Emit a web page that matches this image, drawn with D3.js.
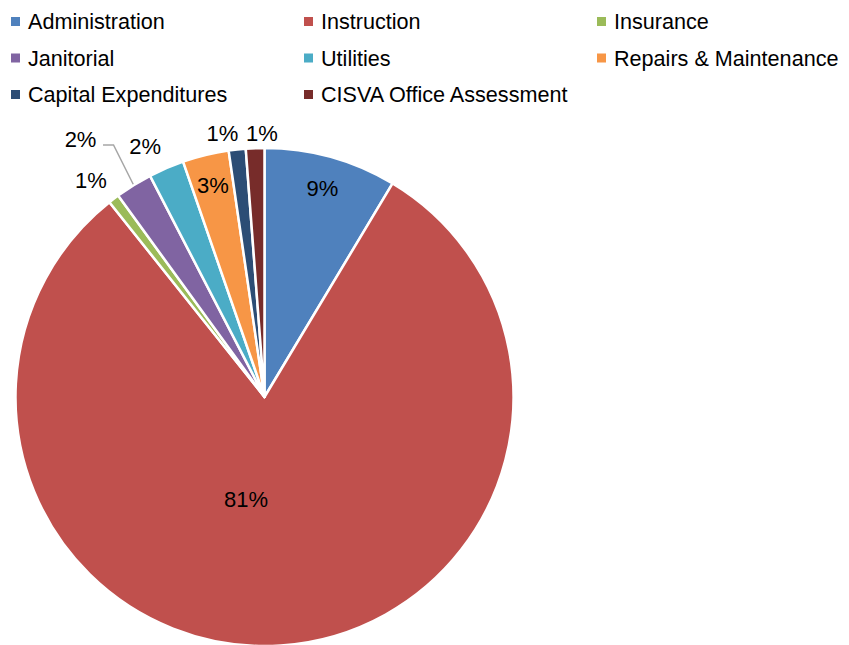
<!DOCTYPE html>
<html>
<head>
<meta charset="utf-8">
<script src="https://cdn.jsdelivr.net/npm/d3@7"></script>
<style>
  body { margin: 0; background: #fff; }
  svg { display: block; }
  text { font-family: "Liberation Sans", Arial, sans-serif; fill: #000; }
</style>
</head>
<body>
<div id="chart"></div>
<script>
// Budget share pie chart

// data (percent of total)
const categories = ["Administration", "Instruction", "Insurance", "Janitorial", "Utilities",
                    "Repairs & Maintenance", "Capital Expenditures", "CISVA Office Assessment"];
const shares = [8.6, 80.7, 0.7, 2.4, 2.3, 3.0, 1.1, 1.2];
const colors = ["#4F81BD", "#C0504D", "#9BBB59", "#8064A2", "#4BACC6", "#F79646", "#2C4D75", "#772C2A"];

// where each percent label sits: radius as multiple of pie radius, and turn from slice middle (deg)
const labelRadius = [0.87, 0.416, 1.116, 1.273, 1.116, 0.877, 1.072, 1.06];
const labelTurn = [0, 14, -1.4, -3.8, -2.2, 0, -2.8, 1.6];
const leaderIndex = 3; // Janitorial label has a leader line

const W = 849, H = 645;
const cx = 264.5, cy = 397, radius = 249;

const svg = d3.select("#chart")
  .append("svg")
    .attr("width", W)
    .attr("height", H);

// legend, 3 columns
const legend = svg.append("g").attr("class", "legend");
const item = legend.selectAll("g")
  .data(categories)
  .enter()
  .append("g")
    .attr("transform", (d, i) => `translate(${11 + (i % 3) * 293},${21.5 + Math.floor(i / 3) * 36.5})`);
item.append("rect")
    .attr("x", 0).attr("y", -4.5)
    .attr("width", 9).attr("height", 9)
    .attr("fill", (d, i) => colors[i]);
item.append("text")
    .attr("x", 17)
    .attr("dy", "0.35em")
    .style("font-size", "21.6px")
    .text(d => d);

// pie
const total = d3.sum(shares);
const pie = d3.pie().sort(null).value(d => d);
const arcs = pie(shares);
const arc = d3.arc().innerRadius(0).outerRadius(radius);

const g = svg.append("g").attr("transform", `translate(${cx},${cy})`);

g.selectAll("path.slice")
  .data(arcs)
  .enter()
  .append("path")
    .attr("class", "slice")
    .attr("d", arc)
    .attr("fill", (d, i) => colors[i])
    .attr("stroke", "#fff")
    .attr("stroke-width", 2.5)
    .attr("stroke-linejoin", "round");

// label positions from slice middle angle
const polar = (a, r) => [Math.sin(a) * r, -Math.cos(a) * r];
const labelPos = arcs.map((d, i) => {
  const mid = (d.startAngle + d.endAngle) / 2 + labelTurn[i] * Math.PI / 180;
  return polar(mid, radius * labelRadius[i]);
});

g.selectAll("text.pct")
  .data(arcs)
  .enter()
  .append("text")
    .attr("class", "pct")
    .attr("x", (d, i) => labelPos[i][0])
    .attr("y", (d, i) => labelPos[i][1])
    .attr("dy", "0.35em")
    .attr("text-anchor", "middle")
    .style("font-size", "22px")
    .text(d => Math.round(d.value / total * 100) + "%");

// leader line for the Janitorial label
const ld = arcs[leaderIndex];
const lp = labelPos[leaderIndex];
const tip = polar((ld.startAngle + ld.endAngle) / 2, radius + 1);
g.append("polyline")
    .attr("points", [[lp[0] + 22.5, lp[1] + 6], [lp[0] + 33, lp[1] + 6], tip].map(p => p.join(",")).join(" "))
    .attr("fill", "none")
    .attr("stroke", "#A6A6A6")
    .attr("stroke-width", 1.5);
</script>
</body>
</html>
